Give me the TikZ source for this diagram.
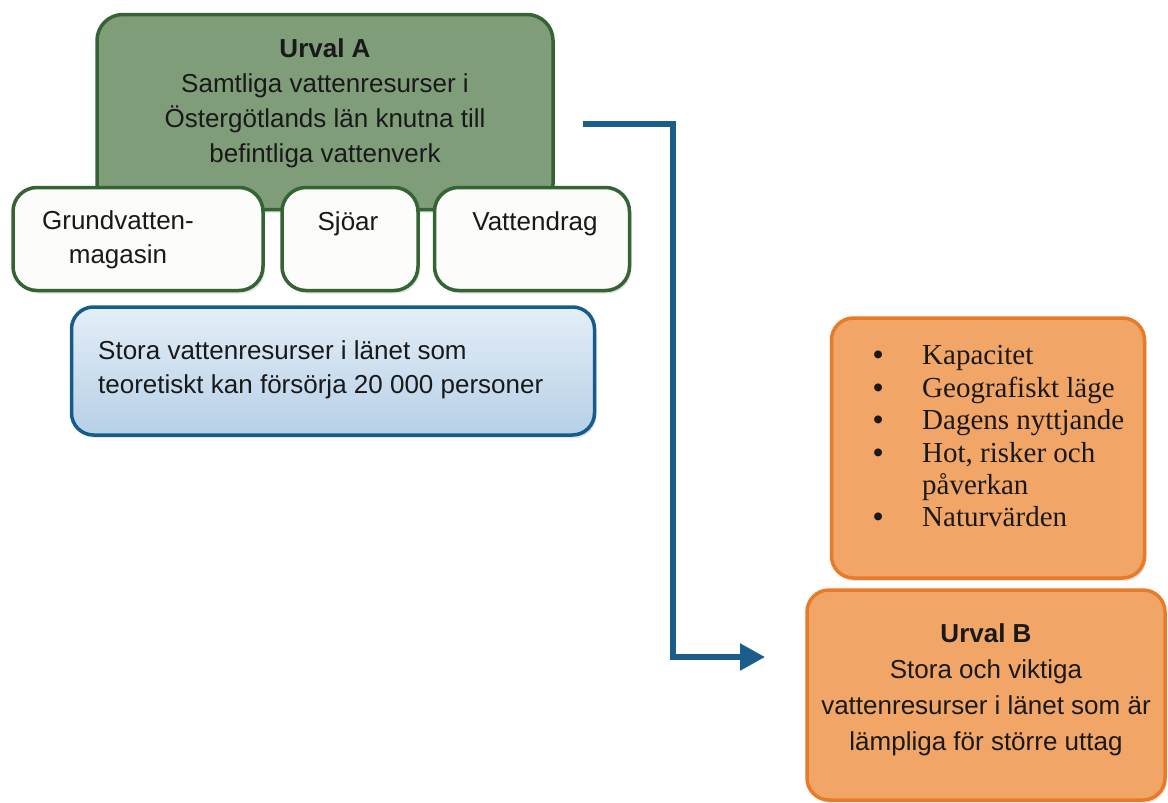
\documentclass[tikz,border=0pt]{standalone}
\usepackage{fontspec}
\setmainfont{Liberation Sans}
\newfontfamily\listserif{Liberation Serif}
\usetikzlibrary{arrows.meta,shadows}
\definecolor{gfill}{RGB}{128,157,122}
\definecolor{gline}{RGB}{52,100,52}
\definecolor{wfill}{RGB}{252,252,250}
\definecolor{btop}{RGB}{228,238,248}
\definecolor{bbot}{RGB}{182,208,230}
\definecolor{bline}{RGB}{22,92,138}
\definecolor{ofill}{RGB}{241,166,104}
\definecolor{oline}{RGB}{232,122,40}
\definecolor{arrowc}{RGB}{26,92,138}
\definecolor{txt}{RGB}{25,25,25}
\tikzset{
  boxbase/.style={rounded corners=26pt, line width=3.5pt, inner sep=0pt,
    drop shadow={opacity=0.22, shadow xshift=2pt, shadow yshift=-3pt}},
  greenbox/.style={boxbase, draw=gline, fill=gfill},
  whitebox/.style={boxbase, rounded corners=24pt, draw=gline, fill=wfill},
  bluebox/.style={boxbase, rounded corners=22pt, draw=bline, top color=btop, bottom color=bbot},
  orangebox/.style={boxbase, rounded corners=22pt, draw=oline, fill=ofill},
  sanstxt/.style={font=\fontsize{26}{34}\selectfont, text=txt, inner sep=0pt},
  flowarrow/.style={draw=arrowc, line width=5.5pt, -{Triangle[length=25pt,width=26pt]}}
}
\newcommand{\bigbul}{\textbf{\textbullet}}
\begin{document}
\begin{tikzpicture}[x=1pt,y=-1pt]
\useasboundingbox (0,0) rectangle (1168,803);
% green box
\node[greenbox, minimum width=456pt, minimum height=195pt] (A) at (325,112) {};
\node[sanstxt, align=center, font=\fontsize{26}{35}\selectfont] (Atxt) at (325,103)
  {\textbf{Urval A}\\Samtliga vattenresurser i\\Östergötlands län knutna till\\befintliga vattenverk};
% white boxes
\node[whitebox, minimum width=250pt, minimum height=103pt] (g) at (138,239) {};
\node[whitebox, minimum width=136pt, minimum height=103pt] (s) at (350,239) {};
\node[whitebox, minimum width=195pt, minimum height=103pt] (v) at (532,239) {};
\node[sanstxt, align=center] (gt) at (118,240) {Grundvatten-\\magasin};
\node[sanstxt] (st) at (348,224) {Sjöar};
\node[sanstxt] (vt) at (535,224) {Vattendrag};
% blue box
\node[bluebox, minimum width=523pt, minimum height=128pt] (blue) at (333,371) {};
\node[sanstxt, align=left, anchor=west] (bt) at (98,370)
  {Stora vattenresurser i länet som\\teoretiskt kan försörja 20 000 personer};
% orange list box
\node[orangebox, minimum width=313pt, minimum height=260pt] (crit) at (988,448) {};
\node[inner sep=0pt, anchor=north west, text=txt,
      font=\listserif\fontsize{29}{32.4}\selectfont] (list) at (873,342)
  {\begin{tabular}{@{}p{49pt}@{}l@{}}
   \bigbul & Kapacitet\\
   \bigbul & Geografiskt läge\\
   \bigbul & Dagens nyttjande\\
   \bigbul & Hot, risker och\\
           & påverkan\\
   \bigbul & Naturvärden
   \end{tabular}};
% orange B box
\node[orangebox, minimum width=358pt, minimum height=210pt] (B) at (986,695) {};
\node[sanstxt, align=center, font=\fontsize{26}{36}\selectfont] (Btxt) at (986,690)
  {\textbf{Urval B}\\Stora och viktiga\\vattenresurser i länet som är\\lämpliga för större uttag};
% arrow
\coordinate (p0) at (583,124);
\coordinate (p1) at (673,124);
\coordinate (p2) at (673,657);
\coordinate (p3) at (765,657);
\draw[flowarrow] (p0) -- (p1) -- (p2) -- (p3);
\end{tikzpicture}
\end{document}
